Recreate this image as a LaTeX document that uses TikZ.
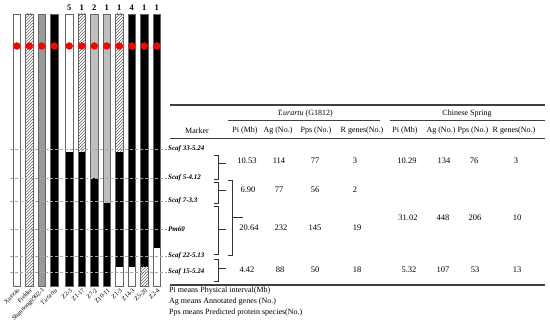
\documentclass[tikz,border=0pt]{standalone}
\usepackage{fontspec}
\setmainfont{Liberation Serif}
\usetikzlibrary{patterns}
\begin{document}
\begin{tikzpicture}[x=1pt,y=-1pt,
  baredge/.style={draw=black!60, line width=0.5pt},
  wseg/.style={fill=white},
  hseg/.style={pattern=north east lines, pattern color=black!60},
  gseg/.style={fill=black!40},
  lseg/.style={fill=black!25},
  bseg/.style={fill=black},
  reddot/.style={circle, fill=red, inner sep=0pt, minimum size=7.5pt},
  mk/.style={font=\fontsize{7}{8}\selectfont\bfseries\itshape, anchor=west, inner sep=1pt},
  hd/.style={font=\fontsize{8}{9}\selectfont, inner sep=1pt},
  val/.style={font=\fontsize{8.5}{10}\selectfont, inner sep=1pt},
  cnt/.style={font=\fontsize{8.5}{10}\selectfont\bfseries, inner sep=1pt},
  lab/.style={font=\fontsize{6.3}{7}\selectfont, rotate=45, anchor=east, inner sep=0.3pt},
  foot/.style={font=\fontsize{8}{9}\selectfont, anchor=west, inner sep=1pt},
  dline/.style={densely dashed, black!35, line width=0.4pt},
  brk/.style={line width=0.6pt, black!80},
  rule/.style={black!75}
]
\useasboundingbox (0,0) rectangle (550,323);
\fill[white] (0,0) rectangle (550,323);
% ---------- bars ----------
\def\bw{7.5}
% Xuezao
\path[wseg] (13,14) rectangle ++(\bw,272);
% Fielder
\path[hseg] (25.5,14) rectangle ++(\bw,272);
% Shannong
\path[gseg] (38,14) rectangle ++(\bw,272);
% T.urartu
\path[bseg] (50.5,14) rectangle ++(\bw,272);
% Z2-3
\path[wseg] (65.5,14) rectangle (73,152);
\path[bseg] (65.5,152) rectangle (73,286);
% Z1-17
\path[hseg] (78,14) rectangle (85.5,152);
\path[bseg] (78,152) rectangle (85.5,286);
% Z7-2
\path[lseg] (90.5,14) rectangle (98,178);
\path[bseg] (90.5,178) rectangle (98,286);
% Z10-11
\path[lseg] (103,14) rectangle (110.5,203);
\path[bseg] (103,203) rectangle (110.5,286);
% Z1-3
\path[hseg] (115.5,14) rectangle (123,152);
\path[bseg] (115.5,152) rectangle (123,267);
\path[wseg] (115.5,267) rectangle (123,286);
% Z14-3
\path[bseg] (128,14) rectangle (135.5,267);
\path[wseg] (128,267) rectangle (135.5,286);
% Z5-20
\path[bseg] (140.5,14) rectangle (148,267);
\path[hseg] (140.5,267) rectangle (148,286);
% Z2-4
\path[bseg] (153,14) rectangle (160.5,248);
\path[wseg] (153,248) rectangle (160.5,286);
% outlines, dots, labels
\foreach \x/\name/\txt [count=\i] in {13/b1/Xuezao, 25.5/b2/Fielder, 38/b3/Shannong0902-1, 50.5/b4/\textit{T.urartu},
  65.5/b5/Z2-3, 78/b6/Z1-17, 90.5/b7/Z7-2, 103/b8/Z10-11, 115.5/b9/Z1-3, 128/b10/Z14-3, 140.5/b11/Z5-20, 153/b12/Z2-4}{
  \draw[baredge] (\x,14) rectangle ++(\bw,272);
  \node[reddot] (dot\i) at (\x+3.75,46) {};
  \node[lab] (\name) at (\x+6,289) {\txt};
}
% counts above bars
\foreach \x/\n [count=\i] in {65.5/5, 78/1, 90.5/2, 103/1, 115.5/1, 128/4, 140.5/1, 153/1}{
  \node[cnt] (c\i) at (\x+3.75,8) {\n};
}
% ---------- marker labels ----------
\node[mk] (m1) at (167,149) {Scaf 33-5.24};
\node[mk] (m2) at (167,178) {Scaf 5-4.12};
\node[mk] (m3) at (167,201) {Scaf 7-3.3};
\node[mk] (m4) at (167,229) {Pm60};
\node[mk] (m5) at (167,256) {Scaf 22-5.13};
\node[mk] (m6) at (167,272) {Scaf 15-5.24};
\foreach \i/\y in {1/149, 2/178, 3/201, 4/229, 5/256, 6/272}{
  \coordinate (d\i) at (10,\y);
  \draw[dline] (d\i) -- (m\i.west);
}
% ---------- brackets ----------
\draw[brk] (214,155) -- (218,155) -- (218,179) -- (214,179);
\draw[brk] (218,163) -- (226,163);
\draw[brk] (214,182) -- (218,182) -- (218,203) -- (214,203);
\draw[brk] (218,190) -- (226,190);
\draw[brk] (228,180) -- (232,180) -- (232,255) -- (228,255);
\draw[brk] (232,217) -- (243,217);
\draw[brk] (214,206) -- (218,206) -- (218,254) -- (214,254);
\draw[brk] (218,229) -- (226,229);
\draw[brk] (214,259) -- (218,259) -- (218,281) -- (214,281);
\draw[brk] (218,268) -- (226,268);
% ---------- table rules ----------
\draw[rule, line width=1.2pt] (170,105) -- (545,105);
\draw[rule, line width=0.7pt] (228,120) -- (380,120);
\draw[rule, line width=0.7pt] (390,120) -- (545,120);
\draw[rule, line width=0.6pt] (170,138) -- (545,138);
\draw[rule, line width=1.2pt] (170,285) -- (545,285);
% ---------- headers ----------
\node[hd] (tu) at (305,114) {\textit{T.urartu} (G1812)};
\node[hd] (cs) at (467,114) {Chinese Spring};
\node[hd] (hm) at (197,131) {Marker};
\node[hd] (h1) at (245,131) {Pi (Mb)};
\node[hd] (h2) at (278,131) {Ag (No.)};
\node[hd] (h3) at (316,131) {Pps (No.)};
\node[hd] (h4) at (362,131) {R genes(No.)};
\node[hd] (h5) at (405,131) {Pi (Mb)};
\node[hd] (h6) at (441,131) {Ag (No.)};
\node[hd] (h7) at (473,131) {Pps (No.)};
\node[hd] (h8) at (514,131) {R genes(No.)};
% ---------- values ----------
\node[val] (r1a) at (247,161) {10.53};
\node[val] (r1b) at (279,161) {114};
\node[val] (r1c) at (315,161) {77};
\node[val] (r1d) at (355,161) {3};
\node[val] (r1e) at (407,161) {10.29};
\node[val] (r1f) at (444,161) {134};
\node[val] (r1g) at (474,161) {76};
\node[val] (r1h) at (516,161) {3};
\node[val] (r2a) at (248,190) {6.90};
\node[val] (r2b) at (279,190) {77};
\node[val] (r2c) at (315,190) {56};
\node[val] (r2d) at (355,190) {2};
\node[val] (r3a) at (249,228) {20.64};
\node[val] (r3b) at (281,228) {232};
\node[val] (r3c) at (315,228) {145};
\node[val] (r3d) at (357,228) {19};
\node[val] (r3e) at (408,218) {31.02};
\node[val] (r3f) at (443,218) {448};
\node[val] (r3g) at (475,218) {206};
\node[val] (r3h) at (517,218) {10};
\node[val] (r4a) at (247,270) {4.42};
\node[val] (r4b) at (280,270) {88};
\node[val] (r4c) at (315,270) {50};
\node[val] (r4d) at (357,270) {18};
\node[val] (r4e) at (409,270) {5.32};
\node[val] (r4f) at (443,270) {107};
\node[val] (r4g) at (475,270) {53};
\node[val] (r4h) at (517,270) {13};
% ---------- footnotes ----------
\node[foot] (f1) at (168,291) {Pi means Physical interval(Mb)};
\node[foot] (f2) at (168,302) {Ag means Annotated genes (No.)};
\node[foot] (f3) at (168,313) {Pps means Predicted protein species(No.)};
\end{tikzpicture}
\end{document}
